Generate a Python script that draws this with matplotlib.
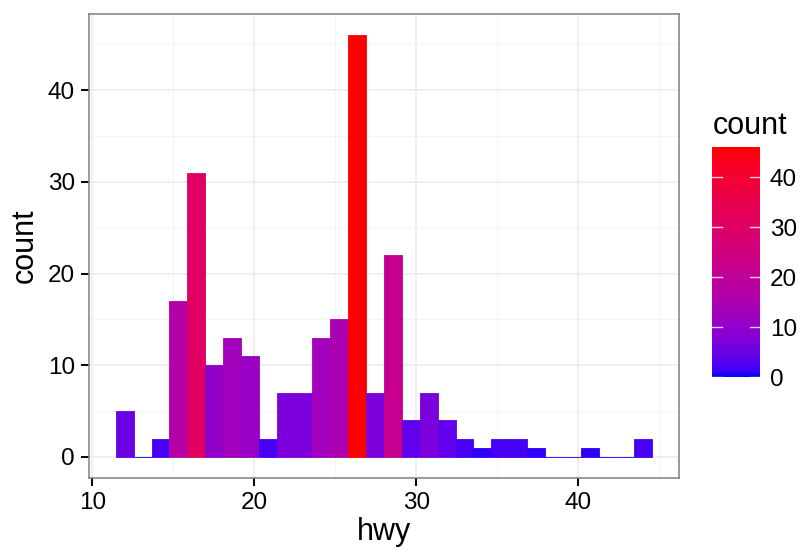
import matplotlib.pyplot as plt
import matplotlib as mpl
import numpy as np

plt.rcParams['font.family'] = ['Liberation Sans', 'DejaVu Sans']

# bin centres of hwy (30 bins from 12 to 44) and counts
bin_lo = 12
bin_hi = 44
counts = [5, 0, 2, 17, 31, 10, 13, 11, 2, 7, 7, 13, 15, 46, 7,
          22, 4, 7, 4, 2, 1, 2, 2, 1, 0, 0, 1, 0, 0, 2]
xticks = [10, 20, 30, 40]
yticks = [0, 10, 20, 30, 40]
cbar_ticks = [0, 10, 20, 30, 40]


# blue -> red gradient interpolated in CIELAB like ggplot
def srgb_to_lab(rgb):
    rgb = np.asarray(rgb, float)
    lin = np.where(rgb <= 0.04045, rgb / 12.92, ((rgb + 0.055) / 1.055) ** 2.4)
    M = np.array([[0.4124, 0.3576, 0.1805],
                  [0.2126, 0.7152, 0.0722],
                  [0.0193, 0.1192, 0.9505]])
    xyz = M @ lin
    wp = np.array([0.95047, 1.0, 1.08883])
    t = xyz / wp
    f = np.where(t > (6 / 29) ** 3, np.cbrt(t), t / (3 * (6 / 29) ** 2) + 4 / 29)
    return np.array([116 * f[1] - 16, 500 * (f[0] - f[1]), 200 * (f[1] - f[2])])


def lab_to_srgb(lab):
    L, a, b = lab
    fy = (L + 16) / 116
    fx = fy + a / 500
    fz = fy - b / 200
    f = np.array([fx, fy, fz])
    d = 6 / 29
    t = np.where(f > d, f ** 3, 3 * d ** 2 * (f - 4 / 29))
    xyz = t * np.array([0.95047, 1.0, 1.08883])
    Minv = np.array([[3.2406, -1.5372, -0.4986],
                     [-0.9689, 1.8758, 0.0415],
                     [0.0557, -0.2040, 1.0570]])
    lin = Minv @ xyz
    lin = np.clip(lin, 0, 1)
    rgb = np.where(lin <= 0.0031308, 12.92 * lin, 1.055 * lin ** (1 / 2.4) - 0.055)
    return np.clip(rgb, 0, 1)


lab_lo = srgb_to_lab([0, 0, 1])
lab_hi = srgb_to_lab([1, 0, 0])
cols = [lab_to_srgb(lab_lo + (lab_hi - lab_lo) * t) for t in np.linspace(0, 1, 256)]
cmap = mpl.colors.ListedColormap(cols)
norm = mpl.colors.Normalize(0, max(counts))

n = len(counts)
width = (bin_hi - bin_lo) / (n - 1)
centers = bin_lo + width * np.arange(n)

fig = plt.figure(figsize=(8.06, 5.56), dpi=100)
ax = fig.add_axes([89 / 806, 1 - 478 / 556, (679 - 89) / 806, (478 - 14) / 556])

for v in [15, 25, 35, 45]:
    ax.axvline(v, color='#F2F2F2', lw=0.6, zorder=0)
for v in [5, 15, 25, 35, 45]:
    ax.axhline(v, color='#F2F2F2', lw=0.6, zorder=0)
for v in xticks:
    ax.axvline(v, color='#EBEBEB', lw=1.1, zorder=0)
for v in yticks:
    ax.axhline(v, color='#EBEBEB', lw=1.1, zorder=0)

bar_cols = [cmap(norm(c)) for c in counts]
ax.bar(centers, counts, width=width, color=bar_cols, edgecolor=bar_cols,
       linewidth=0.6, zorder=2)

lo = bin_lo - width / 2
hi = bin_hi + width / 2
pad = (hi - lo) * 0.05
ax.set_xlim(lo - pad, hi + pad)
ax.set_ylim(-max(counts) * 0.05, max(counts) * 1.05)
ax.set_xticks(xticks)
ax.set_yticks(yticks)
ax.tick_params(labelsize=17.5, length=6, width=1.4, color='black', pad=4)
for s in ax.spines.values():
    s.set_color('#7F7F7F')
    s.set_linewidth(1.1)
ax.set_xlabel('hwy', fontsize=22, labelpad=2)
ax.set_ylabel('count', fontsize=22, labelpad=6)

cax = fig.add_axes([712 / 806, 1 - 377 / 556, 48 / 806, (377 - 147) / 556])
cb = mpl.colorbar.ColorbarBase(cax, cmap=cmap, norm=norm, ticks=cbar_ticks)
cb.outline.set_visible(False)
cax.tick_params(labelsize=17.5, length=0, pad=7)
for t in cbar_ticks:
    cax.plot([0, 0.2], [t, t], color='white', lw=1, alpha=0.8)
    cax.plot([0.8, 1], [t, t], color='white', lw=1, alpha=0.8)
cax.set_xlim(0, 1)
fig.text(713 / 806, 1 - 126 / 556, 'count', fontsize=22, va='center', ha='left')

fig.savefig('out.png', dpi=100)
